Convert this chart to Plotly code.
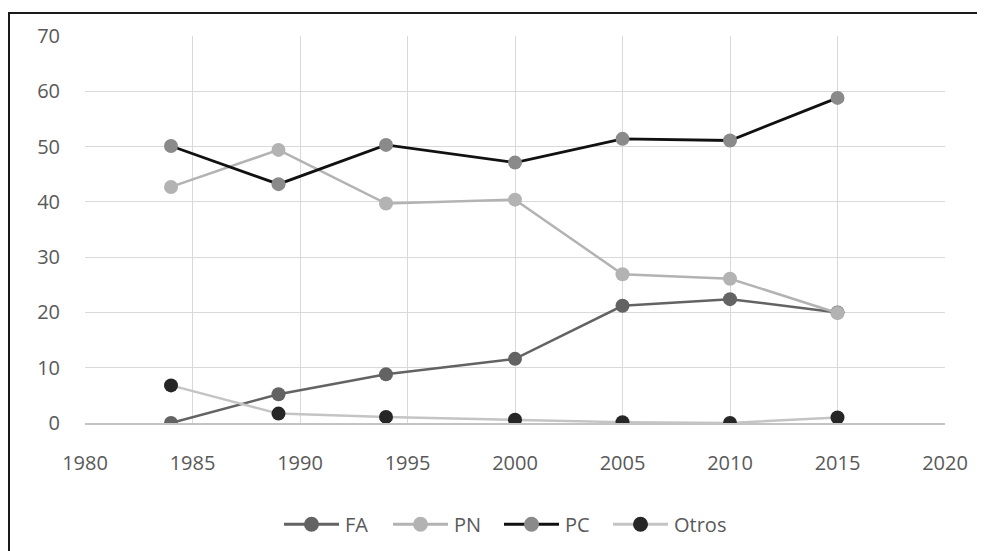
import plotly.graph_objects as go

years = [1984, 1989, 1994, 2000, 2005, 2010, 2015]
fa = [0.0, 5.2, 8.8, 11.6, 21.2, 22.4, 20.0]
pn = [42.7, 49.4, 39.7, 40.4, 26.9, 26.1, 19.9]
pc = [50.1, 43.2, 50.3, 47.1, 51.4, 51.1, 58.8]
otros = [6.8, 1.7, 1.1, 0.6, 0.15, 0.0, 1.0]

series_names = ["FA", "PN", "PC", "Otros"]
series_values = [fa, pn, pc, otros]
line_colors = ["#636363", "#b3b3b3", "#111111", "#c4c4c4"]
marker_colors = ["#636363", "#b3b3b3", "#8a8a8a", "#262626"]
line_widths = [2.5, 2.5, 2.8, 2.5]

x_ticks = [1980, 1985, 1990, 1995, 2000, 2005, 2010, 2015, 2020]
y_ticks = [0, 10, 20, 30, 40, 50, 60, 70]

fig = go.Figure()
for name, vals, lc, mc, lw in zip(series_names, series_values, line_colors, marker_colors, line_widths):
    fig.add_trace(go.Scatter(
        x=years, y=vals, name=name, mode="lines+markers",
        line=dict(color=lc, width=lw),
        marker=dict(color=mc, size=14, line=dict(width=0)),
        showlegend=False,
    ))

# figure geometry (pixels)
W, H = 977, 543
L, R, T, B = 77, 40, 27.5, 127.5
pw, ph = W - L - R, H - T - B

def px_x(p):
    return (p - L) / pw

def px_y(p):
    return (H - B - p) / ph

# outer frame
fig.add_shape(type="rect", xref="paper", yref="paper",
              x0=px_x(1), x1=px_x(1010), y0=px_y(600), y1=px_y(4.5),
              line=dict(color="#1a1a1a", width=2), fillcolor="rgba(0,0,0,0)",
              layer="above")

# custom legend (line + marker + label), built from the series lists
legend_starts = [276, 385, 496, 605]
legend_y = 517
sym_len = 55
for name, lc, mc, lw, x0 in zip(series_names, line_colors, marker_colors, line_widths, legend_starts):
    yy = px_y(legend_y)
    fig.add_shape(type="line", xref="paper", yref="paper",
                  x0=px_x(x0), x1=px_x(x0 + sym_len), y0=yy, y1=yy,
                  line=dict(color=lc, width=lw + 0.3))
    fig.add_shape(type="circle", xref="paper", yref="paper",
                  xsizemode="pixel", ysizemode="pixel",
                  xanchor=px_x(x0 + sym_len / 2), yanchor=yy,
                  x0=-7.5, x1=7.5, y0=-7.5, y1=7.5,
                  fillcolor=mc, line=dict(width=0))
    fig.add_annotation(x=px_x(x0 + 59), y=yy, xref="paper", yref="paper",
                       text=name, showarrow=False, xanchor="left", yanchor="middle",
                       font=dict(size=20, color="#595959"))

font_family = "Open Sans, sans-serif"
fig.update_layout(
    width=W, height=H,
    margin=dict(l=L, r=R, t=T, b=B, autoexpand=False),
    paper_bgcolor="white", plot_bgcolor="white",
    font=dict(family=font_family, size=20, color="#595959"),
    showlegend=False,
    xaxis=dict(range=[1980, 2020], tickvals=x_ticks,
               ticktext=[str(v) for v in x_ticks],
               showgrid=True, gridcolor="#d9d9d9", gridwidth=1.3,
               zeroline=False, showline=True, linecolor="#c4c4c4", linewidth=1.5,
               mirror=False, ticks="", ticklabelstandoff=21,
               tickfont=dict(size=20, color="#595959")),
    yaxis=dict(range=[0, 70], tickvals=y_ticks,
               ticktext=[str(v) for v in y_ticks],
               showgrid=True, gridcolor="#d9d9d9", gridwidth=1.3,
               zeroline=False, showline=False, ticks="",
               ticklabelstandoff=24,
               tickfont=dict(size=20, color="#595959")),
)

fig.write_html("out.html")
